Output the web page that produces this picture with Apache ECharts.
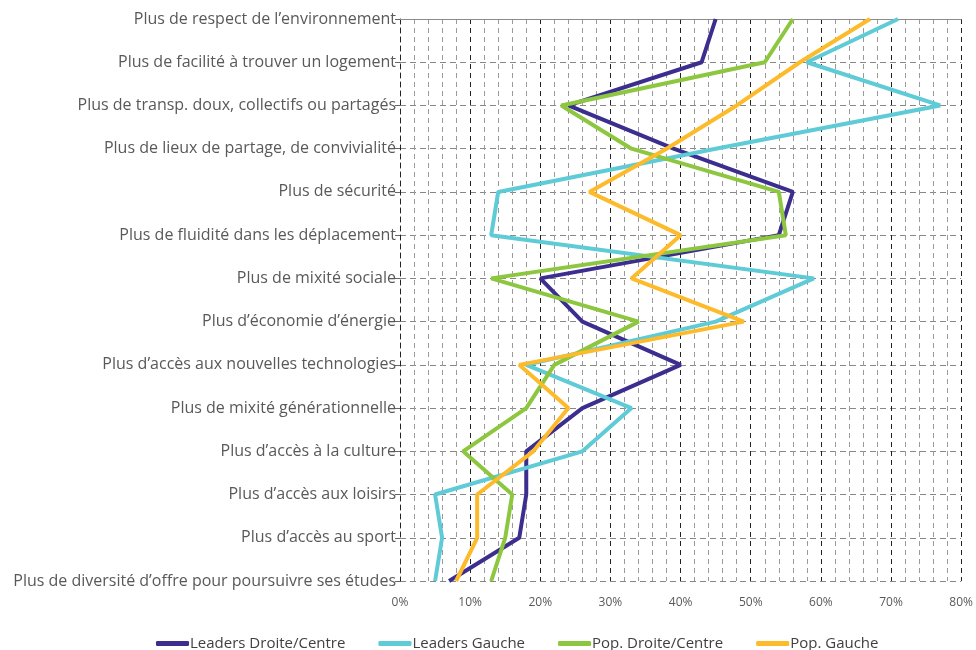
<!DOCTYPE html>
<html>
<head>
<meta charset="utf-8">
<script src="https://cdn.jsdelivr.net/npm/echarts@6/dist/echarts.min.js"></script>
<style>
html, body { margin: 0; padding: 0; background: #fff; }
#chart { width: 976px; height: 650px; }
</style>
</head>
<body>
<div id="chart"></div>
<script>
// categories, top to bottom
var categories = [
    "Plus de respect de l\u2019environnement",
    "Plus de facilité à trouver un logement",
    "Plus de transp. doux, collectifs ou partagés",
    "Plus de lieux de partage, de convivialité",
    "Plus de sécurité",
    "Plus de fluidité dans les déplacement",
    "Plus de mixité sociale",
    "Plus d\u2019économie d\u2019énergie",
    "Plus d\u2019accès aux nouvelles technologies",
    "Plus de mixité générationnelle",
    "Plus d\u2019accès à la culture",
    "Plus d\u2019accès aux loisirs",
    "Plus d\u2019accès au sport",
    "Plus de diversité d\u2019offre pour poursuivre ses études"
];

// values in %
var leadersDroite = [45, 43, 24, 39, 56, 54, 20, 26, 40, 26, 18, 18, 17, 7];
var leadersGauche = [71, 58, 77, 45, 14, 13, 59, 45, 18, 33, 26, 5, 6, 5];
var popDroite = [56, 52, 23, 33, 54, 55, 13, 34, 22, 18, 9, 16, 15, 13];
var popGauche = [67, 57, 48, 38, 27, 40, 33, 49, 17, 24, 19, 11, 11, 8];

var seriesNames = ["Leaders Droite/Centre", "Leaders Gauche", "Pop. Droite/Centre", "Pop. Gauche"];
var seriesColors = ["#3b2e8e", "#5ecbd6", "#8dc63f", "#fdbb2b"];

var font = "'Open Sans', sans-serif";

function makeSeries(name, data, color) {
    return {
        name: name,
        type: "line",
        data: data,
        symbol: "none",
        lineStyle: { color: color, width: 4 },
        itemStyle: { color: color }
    };
}

var chart = echarts.init(document.getElementById("chart"));
chart.setOption({
    animation: false,
    grid: { left: 400, right: 5, top: 19, bottom: 69 },
    legend: {
        top: 631,
        left: 151,
        itemWidth: 33,
        itemHeight: 5,
        itemGap: 33,
        icon: "roundRect",
        textStyle: { fontFamily: font, fontSize: 15, color: "#404040", padding: [0, 0, 0, -4] },
        data: seriesNames
    },
    xAxis: [{
        type: "value",
        min: 0,
        max: 80,
        interval: 10,
        axisLine: { show: false },
        axisTick: { show: false },
        axisLabel: {
            formatter: "{value}%",
            fontFamily: font,
            fontSize: 12,
            color: "#595959",
            margin: 16
        },
        splitLine: { lineStyle: { color: "#222", type: [5, 4], width: 1 } },
        minorTick: { show: false, splitNumber: 5 },
        minorSplitLine: { show: true, lineStyle: { color: "#9a9a9a", type: [5, 4], width: 1 } }
    }, {
        type: "value",
        position: "top",
        min: 0,
        max: 80,
        axisLine: { show: true, lineStyle: { color: "#8c8c8c", width: 1 } },
        axisTick: { show: false },
        axisLabel: { show: false },
        splitLine: { show: false }
    }],
    yAxis: {
        type: "category",
        data: categories,
        inverse: true,
        boundaryGap: false,
        axisLine: { show: true, lineStyle: { color: "#222", type: [5, 4] } },
        axisTick: { show: true, length: 5, lineStyle: { color: "#666" } },
        axisLabel: {
            fontFamily: font,
            fontSize: 16,
            color: "#595959",
            margin: 4
        },
        splitLine: { show: true, lineStyle: { color: "#888", type: [6, 4] } }
    },
    series: [
        makeSeries(seriesNames[0], leadersDroite, seriesColors[0]),
        makeSeries(seriesNames[1], leadersGauche, seriesColors[1]),
        makeSeries(seriesNames[2], popDroite, seriesColors[2]),
        makeSeries(seriesNames[3], popGauche, seriesColors[3])
    ]
});
</script>
</body>
</html>
